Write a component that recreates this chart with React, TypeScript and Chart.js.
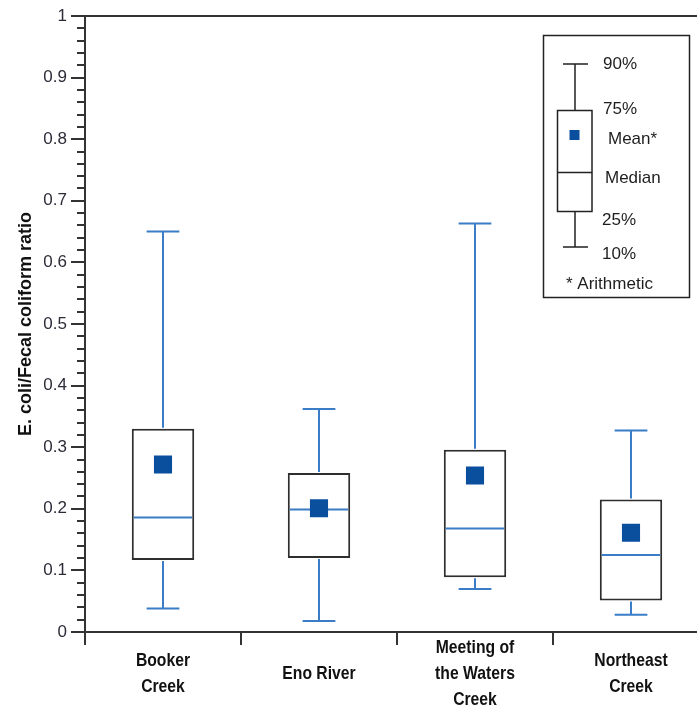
import { useEffect, useRef } from "react";
import { Chart, registerables } from "chart.js";

Chart.register(...registerables);

// Sampling sites along the x axis (multi-line labels)
const SITES: string[][] = [
  ["Booker", "Creek"],
  ["Eno River"],
  ["Meeting of", "the Waters", "Creek"],
  ["Northeast", "Creek"],
];

// E. coli / fecal coliform ratio statistics per site
const P10 = [0.038, 0.018, 0.07, 0.028];
const P25 = [0.117, 0.12, 0.089, 0.051];
const MEDIAN = [0.186, 0.199, 0.168, 0.125];
const P75 = [0.33, 0.258, 0.296, 0.215];
const P90 = [0.65, 0.362, 0.663, 0.327];
const MEAN = [0.272, 0.201, 0.254, 0.161];

// Y axis ticks and their labels
const Y_TICKS = [0, 0.1, 0.2, 0.3, 0.4, 0.5, 0.6, 0.7, 0.8, 0.9, 1];
const Y_LABELS = ["0", "0.1", "0.2", "0.3", "0.4", "0.5", "0.6", "0.7", "0.8", "0.9", "1"];
const Y_MINOR_STEP = 0.02;

// Key describing the box symbol
const KEY_LABELS = ["90%", "75%", "Mean*", "Median", "25%", "10%"];
const KEY_NOTE = "* Arithmetic";

const AXIS_COLOR = "#333333";
const WHISKER_COLOR = "#3a7dc6";
const MEAN_COLOR = "#0a4f9e";
const BOX_BORDER = "#2e2e2e";
const SITE_FONT = 'bold 18.5px "Liberation Sans", Arial, sans-serif';
const SITE_LINE_HEIGHT = 26;

const boxPlotPlugin = {
  id: "boxPlotExtras",
  afterDatasetDraw(chart: any, args: any) {
    if (args.index !== 0) return;
    const { ctx, scales } = chart;
    const x = scales.x;
    const y = scales.y;
    const meta = chart.getDatasetMeta(0);
    ctx.save();
    ctx.strokeStyle = WHISKER_COLOR;
    ctx.lineWidth = 2;
    P10.forEach((_, i) => {
      const cx = Math.round(x.getPixelForValue(i));
      const bar = meta.data[i];
      const half = bar.width / 2;
      const capHalf = (x.width / SITES.length) * 0.105;
      const yTop = y.getPixelForValue(P75[i]);
      const yBot = y.getPixelForValue(P25[i]);
      const y90 = y.getPixelForValue(P90[i]);
      const y10 = y.getPixelForValue(P10[i]);
      const yMed = y.getPixelForValue(MEDIAN[i]);
      ctx.beginPath();
      ctx.moveTo(cx, yTop - 1);
      ctx.lineTo(cx, y90);
      ctx.moveTo(cx - capHalf, y90);
      ctx.lineTo(cx + capHalf, y90);
      ctx.moveTo(cx, yBot + 1);
      ctx.lineTo(cx, y10);
      ctx.moveTo(cx - capHalf, y10);
      ctx.lineTo(cx + capHalf, y10);
      ctx.moveTo(cx - half + 2, yMed);
      ctx.lineTo(cx + half - 2, yMed);
      ctx.stroke();
    });
    ctx.restore();
  },
  afterDraw(chart: any) {
    const { ctx, chartArea, scales } = chart;
    const x = scales.x;
    const y = scales.y;
    ctx.save();
    // frame line along the top of the plot
    ctx.strokeStyle = AXIS_COLOR;
    ctx.lineWidth = 2;
    ctx.beginPath();
    ctx.moveTo(chartArea.left, Math.round(chartArea.top));
    ctx.lineTo(chartArea.right, Math.round(chartArea.top));
    ctx.stroke();
    // minor ticks on the y axis
    ctx.beginPath();
    const n = Math.round(1 / Y_MINOR_STEP);
    for (let k = 0; k <= n; k++) {
      if (k % 5 === 0) continue;
      const py = Math.round(y.getPixelForValue(k * Y_MINOR_STEP));
      ctx.moveTo(chartArea.left - 8, py);
      ctx.lineTo(chartArea.left, py);
    }
    ctx.stroke();

    // site names under the x axis, set in a condensed bold face
    ctx.fillStyle = "#111111";
    ctx.font = SITE_FONT;
    ctx.textAlign = "center";
    ctx.textBaseline = "middle";
    const labelCenter = chartArea.bottom + 41.5;
    SITES.forEach((lines, i) => {
      const cx = x.getPixelForValue(i);
      const first = labelCenter - ((lines.length - 1) / 2) * SITE_LINE_HEIGHT;
      lines.forEach((line, j) => {
        ctx.save();
        ctx.translate(cx, first + j * SITE_LINE_HEIGHT);
        ctx.scale(0.85, 1);
        ctx.fillText(line, 0, 0);
        ctx.restore();
      });
    });

    // key box
    ctx.strokeStyle = "#222222";
    ctx.lineWidth = 1.5;
    ctx.strokeRect(543.5, 35.5, 146, 262);
    const wx = 575;
    ctx.beginPath();
    ctx.moveTo(wx, 64);
    ctx.lineTo(wx, 110.5);
    ctx.moveTo(563, 64);
    ctx.lineTo(588, 64);
    ctx.moveTo(wx, 211.5);
    ctx.lineTo(wx, 247);
    ctx.moveTo(563, 247);
    ctx.lineTo(588, 247);
    ctx.moveTo(557.5, 172.5);
    ctx.lineTo(592, 172.5);
    ctx.stroke();
    ctx.strokeRect(557.5, 110.5, 34.5, 101);
    ctx.fillStyle = MEAN_COLOR;
    ctx.fillRect(569.5, 130, 10, 10);

    ctx.fillStyle = "#1e1e1e";
    ctx.font = '17px "Liberation Sans", Arial, sans-serif';
    ctx.textBaseline = "middle";
    ctx.textAlign = "left";
    const pos: [number, number][] = [
      [603, 64],
      [603, 109],
      [608, 139],
      [605, 178],
      [602, 220],
      [602, 254],
    ];
    KEY_LABELS.forEach((t, i) => ctx.fillText(t, pos[i][0], pos[i][1]));
    ctx.fillText(KEY_NOTE, 566, 284);
    ctx.restore();
  },
};

export default function App() {
  const canvasRef = useRef<HTMLCanvasElement | null>(null);

  useEffect(() => {
    const canvas = canvasRef.current;
    if (!canvas) return;
    const chart = new Chart(canvas, {
      type: "bar",
      data: {
        labels: SITES,
        datasets: [
          {
            type: "bar",
            label: "25%-75%",
            data: P25.map((lo, i) => [lo, P75[i]]) as any,
            backgroundColor: "#ffffff",
            borderColor: BOX_BORDER,
            borderWidth: 2,
            borderSkipped: false,
            barPercentage: 0.4,
            categoryPercentage: 1,
            order: 2,
          },
          {
            type: "line",
            label: "Mean",
            data: MEAN,
            showLine: false,
            pointStyle: "rect",
            pointRadius: 12.8,
            pointBackgroundColor: MEAN_COLOR,
            pointBorderWidth: 0,
            order: 1,
          } as any,
        ],
      },
      options: {
        responsive: false,
        animation: false,
        events: [],
        layout: { padding: { left: 0, right: 16, top: 16, bottom: 75 } },
        plugins: { legend: { display: false }, tooltip: { enabled: false } },
        scales: {
          x: {
            type: "category",
            offset: true,
            grid: {
              display: true,
              offset: true,
              drawOnChartArea: false,
              drawTicks: true,
              tickLength: 13,
              color: AXIS_COLOR,
              lineWidth: 2,
            },
            border: { display: true, color: AXIS_COLOR, width: 2 },
            ticks: { display: false },
          },
          y: {
            type: "linear",
            min: 0,
            max: 1,
            afterFit(scale: any) {
              scale.width = 85;
            },
            afterBuildTicks(scale: any) {
              scale.ticks = Y_TICKS.map((v) => ({ value: v }));
            },
            grid: {
              display: true,
              drawOnChartArea: false,
              drawTicks: true,
              tickLength: 14,
              color: AXIS_COLOR,
              lineWidth: 2,
            },
            border: { display: true, color: AXIS_COLOR, width: 2 },
            ticks: {
              color: "#2c2c38",
              padding: 4,
              font: { family: '"Liberation Sans", Arial, sans-serif', size: 17 },
              callback: (_v: any, i: number) => Y_LABELS[i],
            },
            title: {
              display: true,
              text: "E. coli/Fecal coliform ratio",
              color: "#111111",
              padding: { top: 15, bottom: 0 },
              font: { family: '"Liberation Sans", Arial, sans-serif', size: 18, weight: "bold" },
            },
          },
        },
      },
      plugins: [boxPlotPlugin],
    });
    return () => chart.destroy();
  }, []);

  return (
    <div
      style={{
        position: "fixed",
        left: 0,
        top: 0,
        width: 697,
        height: 710,
        overflow: "hidden",
        background: "#ffffff",
      }}
    >
      <canvas ref={canvasRef} width={725} height={720} style={{ display: "block" }} />
    </div>
  );
}
